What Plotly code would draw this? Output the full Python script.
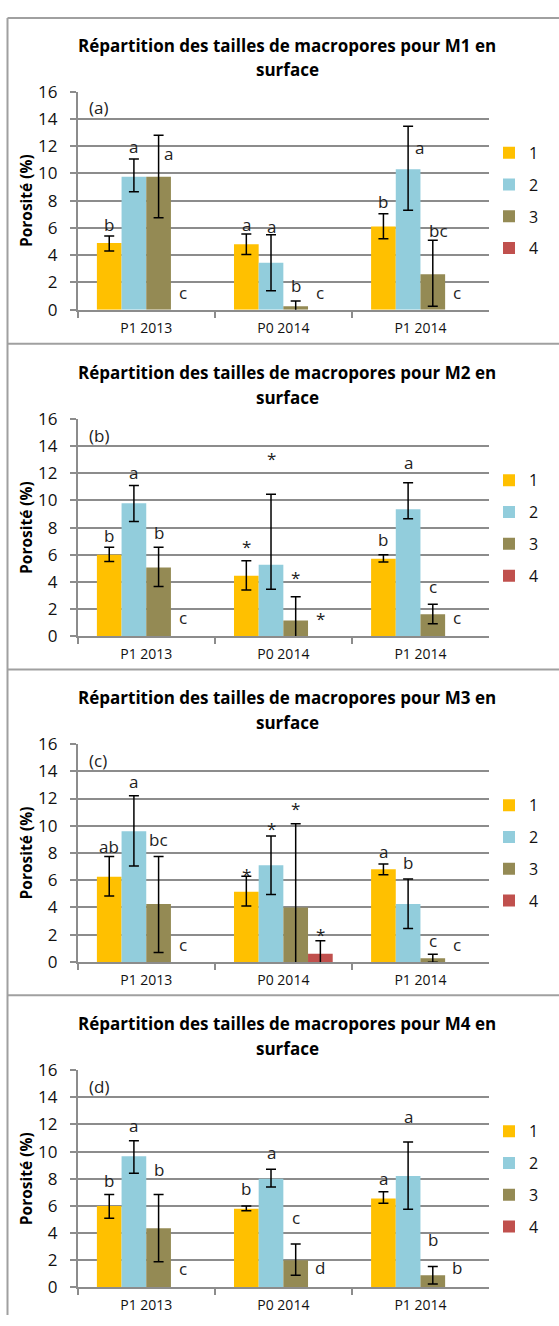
import plotly.graph_objects as go

# ---------------- data ----------------
cats = ["P1 2013", "P0 2014", "P1 2014"]
series_names = ["1", "2", "3", "4"]
colors = ["#FFC000", "#92CDDC", "#948A54", "#C0504D"]
panel_tags = ["(a)", "(b)", "(c)", "(d)"]
panel_names = ["M1", "M2", "M3", "M4"]

# M1 (a)
m1_s1 = [4.9, 4.8, 6.1];   m1_p1 = [0.5, 0.75, 0.95];  m1_m1 = [0.6, 0.75, 0.9]
m1_s2 = [9.75, 3.45, 10.3]; m1_p2 = [1.3, 2.05, 3.15]; m1_m2 = [1.1, 2.05, 3.0]
m1_s3 = [9.75, 0.25, 2.6];  m1_p3 = [3.05, 0.4, 2.5];  m1_m3 = [3.0, 0.4, 2.35]
m1_s4 = [0, 0, 0]
m1_l1 = ["b", "a", "b"];   m1_y1 = [6.28, 6.23, 7.92]
m1_l2 = ["a", "a", "a"];   m1_y2 = [12.0, 6.11, 11.89]
m1_l3 = ["a", "b", "bc"];  m1_y3 = [11.45, 1.78, 5.8]
m1_l4 = ["c", "c", "c"];   m1_y4 = [1.3, 1.3, 1.3]

# M2 (b)
m2_s1 = [6.0, 4.45, 5.7];  m2_p1 = [0.55, 1.1, 0.3];  m2_m1 = [0.5, 1.05, 0.25]
m2_s2 = [9.8, 5.25, 9.35]; m2_p2 = [1.3, 5.2, 1.95];  m2_m2 = [1.35, 1.8, 0.7]
m2_s3 = [5.05, 1.15, 1.6]; m2_p3 = [1.5, 1.75, 0.75]; m2_m3 = [1.4, 1.75, 0.7]
m2_s4 = [0, 0, 0]
m2_l1 = ["b", "*", "b"];   m2_y1 = [7.44, 6.96, 7.1]
m2_l2 = ["a", "*", "a"];   m2_y2 = [12.04, 13.5, 12.8]
m2_l3 = ["b", "*", "c"];   m2_y3 = [7.66, 4.71, 3.63]
m2_l4 = ["c", "*", "c"];   m2_y4 = [1.33, 1.64, 1.33]

# M3 (c)
m3_s1 = [6.25, 5.15, 6.8];  m3_p1 = [1.5, 1.15, 0.4];  m3_m1 = [1.4, 1.05, 0.4]
m3_s2 = [9.6, 7.1, 4.25];   m3_p2 = [2.6, 2.15, 1.85]; m3_m2 = [2.55, 2.15, 1.8]
m3_s3 = [4.25, 4.0, 0.27];  m3_p3 = [3.5, 6.15, 0.3];  m3_m3 = [3.55, 6.15, 0.3]
m3_s4 = [0, 0.6, 0];        m3_p4 = [0, 0.95, 0];      m3_m4 = [0, 0.95, 0]
m3_l1 = ["ab", "*", "a"];  m3_y1 = [8.49, 6.79, 8.11]
m3_l2 = ["a", "*", "b"];   m3_y2 = [13.23, 10.2, 7.29]
m3_l3 = ["bc", "*", "c"];  m3_y3 = [9.02, 11.67, 1.61]
m3_l4 = ["c", "*", "c"];   m3_y4 = [1.28, 2.38, 1.28]

# M4 (d)
m4_s1 = [6.0, 5.8, 6.55];  m4_p1 = [0.85, 0.2, 0.5];  m4_m1 = [0.9, 0.15, 0.35]
m4_s2 = [9.65, 8.0, 8.2];  m4_p2 = [1.15, 0.7, 2.5];  m4_m2 = [1.25, 0.6, 2.45]
m4_s3 = [4.35, 2.0, 0.9];  m4_p3 = [2.5, 1.2, 0.65];  m4_m3 = [2.45, 1.1, 0.65]
m4_s4 = [0, 0, 0]
m4_l1 = ["b", "b", "a"];   m4_y1 = [7.87, 7.31, 8.04]
m4_l2 = ["a", "a", "a"];   m4_y2 = [11.89, 9.91, 12.56]
m4_l3 = ["b", "c", "b"];   m4_y3 = [8.71, 5.17, 3.54]
m4_l4 = ["c", "d", "b"];   m4_y4 = [1.40, 1.44, 1.44]

y_ticks = [0, 2, 4, 6, 8, 10, 12, 14, 16]

zero3 = [0, 0, 0]
panels = [
    dict(vals=[m1_s1, m1_s2, m1_s3, m1_s4], plus=[m1_p1, m1_p2, m1_p3, zero3],
         minus=[m1_m1, m1_m2, m1_m3, zero3],
         labs=[m1_l1, m1_l2, m1_l3, m1_l4], laby=[m1_y1, m1_y2, m1_y3, m1_y4]),
    dict(vals=[m2_s1, m2_s2, m2_s3, m2_s4], plus=[m2_p1, m2_p2, m2_p3, zero3],
         minus=[m2_m1, m2_m2, m2_m3, zero3],
         labs=[m2_l1, m2_l2, m2_l3, m2_l4], laby=[m2_y1, m2_y2, m2_y3, m2_y4]),
    dict(vals=[m3_s1, m3_s2, m3_s3, m3_s4], plus=[m3_p1, m3_p2, m3_p3, m3_p4],
         minus=[m3_m1, m3_m2, m3_m3, m3_m4],
         labs=[m3_l1, m3_l2, m3_l3, m3_l4], laby=[m3_y1, m3_y2, m3_y3, m3_y4]),
    dict(vals=[m4_s1, m4_s2, m4_s3, m4_s4], plus=[m4_p1, m4_p2, m4_p3, zero3],
         minus=[m4_m1, m4_m2, m4_m3, zero3],
         labs=[m4_l1, m4_l2, m4_l3, m4_l4], laby=[m4_y1, m4_y2, m4_y3, m4_y4]),
]

# ---------------- layout constants ----------------
W, H = 559, 1326
FONT = "Open Sans"
plot_left, plot_right = 77.7, 489.0
panel_top_px = [81.0, 414.3, 745.0, 1076.7]
panel_bot_px = [303.0, 635.0, 966.7, 1298.0]
bargap = 0.28
bw = (1 - bargap) / 4
# small manual horizontal nudges (px) for a few labels in panel (a)
label_nudge = {(0, 2, 0): 10, (0, 1, 2): 11, (0, 2, 2): 6}


def drop_empty(vals, errs):
    # no error whisker where there is neither a bar nor an error (plotly skips "NaN")
    return [("NaN" if (v == 0 and e == 0) else e) for v, e in zip(vals, errs)]


fig = go.Figure()
annotations = []
layout_axes = {}

for k, pn in enumerate(panels):
    xa = "x" if k == 0 else f"x{k+1}"
    ya = "y" if k == 0 else f"y{k+1}"
    lg = "legend" if k == 0 else f"legend{k+1}"
    for i in range(4):
        vals = pn["vals"][i]
        plus = pn["plus"][i]
        minus = pn["minus"][i]
        has_err = any(v > 0 for v in plus)
        fig.add_trace(go.Bar(
            x=cats, y=vals, name=series_names[i],
            marker=dict(color=colors[i], line=dict(width=0)),
            error_y=dict(type="data", symmetric=False,
                         array=drop_empty(vals, plus), arrayminus=drop_empty(vals, minus),
                         color="black", thickness=1.5, width=5, visible=has_err),
            xaxis=xa, yaxis=ya, legend=lg, legendgroup=f"p{k}s{i}",
            showlegend=True,
        ))
        # significance letters
        for j in range(3):
            txt = pn["labs"][i][j]
            yshift = -5 if txt == "*" else 0
            annotations.append(dict(
                x=j + (i - 1.5) * bw, y=pn["laby"][i][j], xref=xa, yref=ya,
                text=txt, showarrow=False, xanchor="center", yanchor="middle",
                xshift=label_nudge.get((k, i, j), 0), yshift=yshift,
                font=dict(family=FONT, size=17, color="#222222"),
            ))

    top, bot = panel_top_px[k], panel_bot_px[k]
    dom_y = [1 - bot / H, 1 - top / H]
    dom_x = [plot_left / W, plot_right / W]
    xkey = "xaxis" if k == 0 else f"xaxis{k+1}"
    ykey = "yaxis" if k == 0 else f"yaxis{k+1}"
    layout_axes[xkey] = dict(
        domain=dom_x, anchor=ya, type="category", categoryorder="array",
        categoryarray=cats, tickson="boundaries", ticks="outside", ticklen=6,
        tickwidth=1.5, tickcolor="#8c8c8c", showline=True, linecolor="#8c8c8c",
        linewidth=2, showgrid=False, zeroline=False, ticklabelstandoff=4,
        tickfont=dict(family=FONT, size=14, color="#111111"),
        fixedrange=True,
    )
    layout_axes[ykey] = dict(
        domain=dom_y, anchor=xa, range=[0, 16], tickvals=y_ticks,
        ticks="outside", ticklen=6, tickwidth=1.5, tickcolor="#8c8c8c",
        showline=True, linecolor="#8c8c8c", linewidth=1.5,
        showgrid=True, gridcolor="#8c8c8c", gridwidth=1.5, zeroline=False,
        ticklabelstandoff=9,
        tickfont=dict(family=FONT, size=17, color="#111111"),
        title=dict(text="<b>Porosité (%)</b>", standoff=2,
                   font=dict(family=FONT, size=15.5, color="#000000")),
        fixedrange=True,
    )
    # legend for this panel
    layout_axes[lg] = dict(
        x=489 / W, xanchor="left", y=1 - (top + 45) / H, yanchor="top",
        font=dict(family=FONT, size=16, color="#111111"), tracegroupgap=8,
        bgcolor="rgba(0,0,0,0)", itemclick=False, itemdoubleclick=False,
    )
    # title (two lines)
    for line, sh in ((f"Répartition des tailles de macropores pour {panel_names[k]} en", 46.5),
                     ("surface", 22)):
        annotations.append(dict(
            x=287 / W, xref="paper", y=1, yref=f"{ya} domain", yshift=sh,
            text=f"<b>{line}</b>", showarrow=False, xanchor="center", yanchor="middle",
            font=dict(family=FONT, size=17, color="#000000"),
        ))
    # panel tag
    annotations.append(dict(
        x=0, xref=f"{xa} domain", y=1, yref=f"{ya} domain", xshift=9, yshift=-16,
        text=panel_tags[k], showarrow=False, xanchor="left", yanchor="middle",
        font=dict(family=FONT, size=17, color="#222222"),
    ))

# panel frames
shapes = []
for yb in [6, 337.5, 669, 1000.5]:
    shapes.append(dict(type="line", xref="paper", yref="paper", x0=7.5 / W, x1=1.0,
                       y0=1 - yb / H, y1=1 - yb / H, line=dict(color="#a0a0a0", width=2)))
shapes.append(dict(type="line", xref="paper", yref="paper", x0=7.5 / W, x1=7.5 / W,
                   y0=0, y1=1 - 6 / H, line=dict(color="#a0a0a0", width=2)))

fig.update_layout(
    width=W, height=H, margin=dict(l=0, r=0, t=0, b=0),
    paper_bgcolor="white", plot_bgcolor="white",
    barmode="group", bargap=bargap, bargroupgap=0,
    annotations=annotations, shapes=shapes,
    font=dict(family=FONT),
    **layout_axes,
)

fig.write_html(
    "out.html",
    config={"displayModeBar": False},
    post_script=(
        "var d=document.getElementById('{plot_id}');"
        "d.style.position='fixed';d.style.top='0px';d.style.left='0px';"
        "document.body.style.margin='0';"
        "document.documentElement.style.overflow='hidden';"
        "document.body.style.overflow='hidden';"
    ),
)
